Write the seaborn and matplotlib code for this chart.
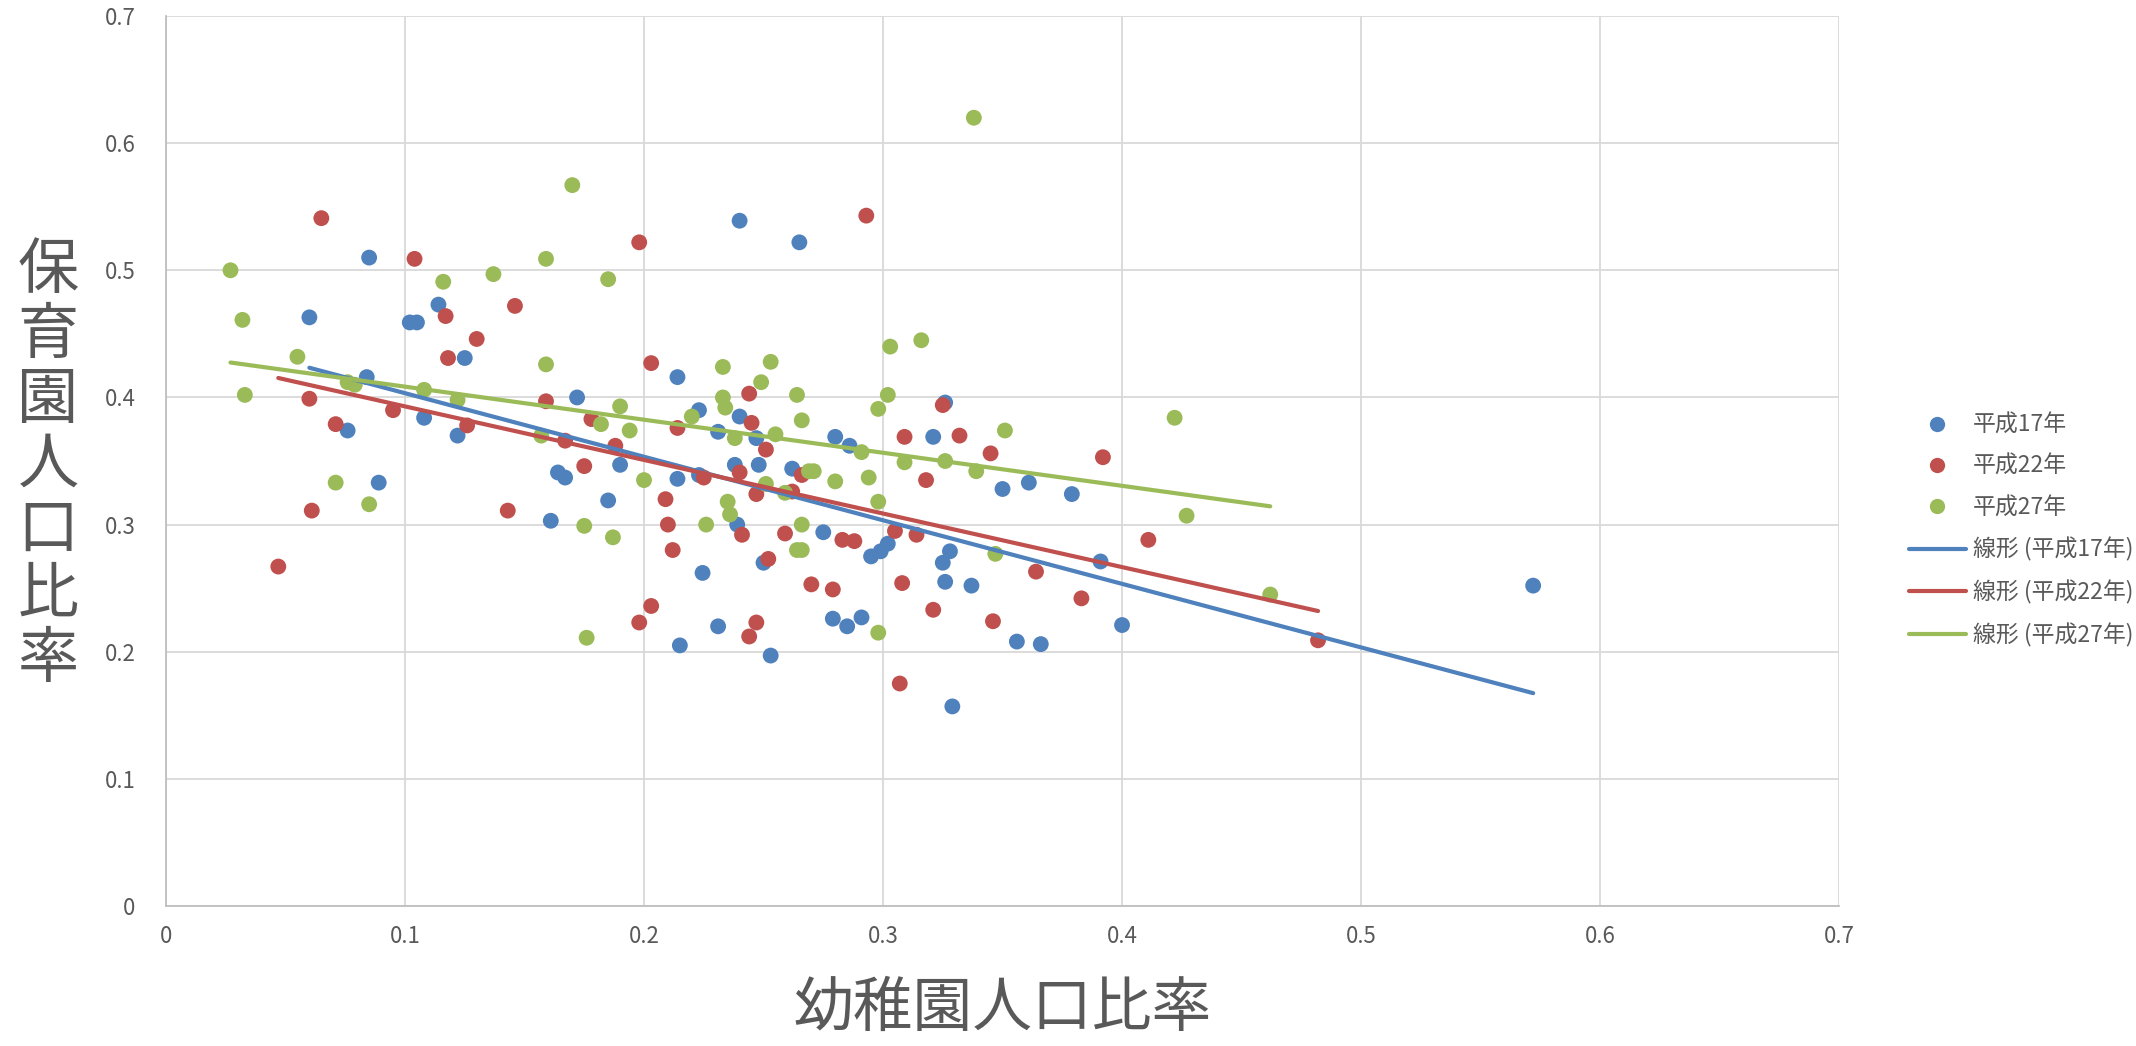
import numpy as np
import pandas as pd
import matplotlib
matplotlib.use("Agg")
import matplotlib.pyplot as plt
from matplotlib.lines import Line2D
import seaborn as sns

# 幼稚園人口比率 (x) / 保育園人口比率 (y) for each survey year
h17_x = [0.085, 0.060, 0.114, 0.102, 0.105, 0.084, 0.125, 0.076, 0.089, 0.108,
         0.122, 0.172, 0.164, 0.167, 0.161, 0.190, 0.185, 0.214, 0.223, 0.231,
         0.240, 0.247, 0.214, 0.223, 0.238, 0.248, 0.262, 0.239, 0.275, 0.2245,
         0.215, 0.231, 0.250, 0.253, 0.240, 0.265, 0.280, 0.286, 0.279, 0.285,
         0.291, 0.295, 0.299, 0.302, 0.321, 0.326, 0.325, 0.328, 0.326, 0.337,
         0.350, 0.361, 0.356, 0.366, 0.379, 0.391, 0.400, 0.329, 0.572]
h17_y = [0.510, 0.463, 0.473, 0.459, 0.459, 0.416, 0.431, 0.374, 0.333, 0.384,
         0.370, 0.400, 0.341, 0.337, 0.303, 0.347, 0.319, 0.416, 0.390, 0.373,
         0.385, 0.368, 0.336, 0.339, 0.347, 0.347, 0.344, 0.300, 0.294, 0.262,
         0.205, 0.220, 0.270, 0.197, 0.539, 0.522, 0.369, 0.362, 0.226, 0.220,
         0.227, 0.275, 0.279, 0.285, 0.369, 0.396, 0.270, 0.279, 0.255, 0.252,
         0.328, 0.333, 0.208, 0.206, 0.324, 0.271, 0.221, 0.157, 0.252]

h22_x = [0.065, 0.104, 0.198, 0.293, 0.117, 0.130, 0.146, 0.118, 0.060, 0.095,
         0.071, 0.126, 0.159, 0.178, 0.167, 0.188, 0.175, 0.061, 0.143, 0.047,
         0.203, 0.214, 0.244, 0.245, 0.251, 0.209, 0.225, 0.240, 0.247, 0.210,
         0.212, 0.241, 0.198, 0.203, 0.244, 0.247, 0.252, 0.259, 0.262, 0.266,
         0.270, 0.279, 0.283, 0.288, 0.305, 0.309, 0.308, 0.307, 0.314, 0.318,
         0.321, 0.325, 0.332, 0.345, 0.346, 0.364, 0.383, 0.392, 0.411, 0.482]
h22_y = [0.541, 0.509, 0.522, 0.543, 0.464, 0.446, 0.472, 0.431, 0.399, 0.390,
         0.379, 0.378, 0.397, 0.383, 0.366, 0.362, 0.346, 0.311, 0.311, 0.267,
         0.427, 0.376, 0.403, 0.380, 0.359, 0.320, 0.337, 0.341, 0.324, 0.300,
         0.280, 0.292, 0.223, 0.236, 0.212, 0.223, 0.273, 0.293, 0.326, 0.339,
         0.253, 0.249, 0.288, 0.287, 0.295, 0.369, 0.254, 0.175, 0.292, 0.335,
         0.233, 0.394, 0.370, 0.356, 0.224, 0.263, 0.242, 0.353, 0.288, 0.209]

h27_x = [0.027, 0.032, 0.033, 0.055, 0.076, 0.079, 0.071, 0.085, 0.108, 0.122,
         0.116, 0.137, 0.170, 0.159, 0.185, 0.159, 0.190, 0.157, 0.182, 0.194,
         0.200, 0.175, 0.187, 0.176, 0.220, 0.233, 0.233, 0.234, 0.238, 0.235,
         0.236, 0.226, 0.249, 0.253, 0.255, 0.251, 0.259, 0.264, 0.266, 0.269,
         0.271, 0.266, 0.264, 0.266, 0.280, 0.291, 0.294, 0.298, 0.298, 0.302,
         0.303, 0.316, 0.309, 0.298, 0.326, 0.338, 0.339, 0.351, 0.347, 0.422,
         0.427, 0.462]
h27_y = [0.500, 0.461, 0.402, 0.432, 0.412, 0.410, 0.333, 0.316, 0.406, 0.398,
         0.491, 0.497, 0.567, 0.509, 0.493, 0.426, 0.393, 0.370, 0.379, 0.374,
         0.335, 0.299, 0.290, 0.211, 0.385, 0.424, 0.400, 0.392, 0.368, 0.318,
         0.308, 0.300, 0.412, 0.428, 0.371, 0.332, 0.325, 0.402, 0.382, 0.342,
         0.342, 0.300, 0.280, 0.280, 0.334, 0.357, 0.337, 0.318, 0.391, 0.402,
         0.440, 0.445, 0.349, 0.215, 0.350, 0.620, 0.342, 0.374, 0.277, 0.384,
         0.307, 0.245]

series_names = ["平成17年", "平成22年", "平成27年"]
series_colors = ["#4F81BD", "#C0504D", "#9BBB59"]
tick_values = [0.0, 0.1, 0.2, 0.3, 0.4, 0.5, 0.6, 0.7]
tick_labels = ["0", "0.1", "0.2", "0.3", "0.4", "0.5", "0.6", "0.7"]

frames = []
for name, xs, ys in zip(series_names, [h17_x, h22_x, h27_x], [h17_y, h22_y, h27_y]):
    frames.append(pd.DataFrame({"幼稚園": xs, "保育園": ys, "年": name}))
df = pd.concat(frames, ignore_index=True)

sns.set_style("white")
plt.rcParams["font.family"] = ["Noto Sans CJK JP", "DejaVu Sans"]

fig = plt.figure(figsize=(21.36, 10.46), dpi=100)
ax = fig.add_axes([0.0777, 0.1338, 0.7833, 0.8509])

palette = dict(zip(series_names, series_colors))
sns.scatterplot(data=df, x="幼稚園", y="保育園", hue="年", palette=palette,
                s=130, edgecolor="none", ax=ax, legend=False, zorder=3)

for name, color in zip(series_names, series_colors):
    sub = df[df["年"] == name]
    sns.regplot(data=sub, x="幼稚園", y="保育園", scatter=False, ci=None,
                truncate=True, color=color, ax=ax,
                line_kws={"linewidth": 3.0, "solid_capstyle": "round", "zorder": 4})

ax.set_xlim(0, 0.7)
ax.set_ylim(0, 0.7)
ax.set_xticks(tick_values)
ax.set_yticks(tick_values)
ax.set_xticklabels(tick_labels)
ax.set_yticklabels(tick_labels)
ax.tick_params(axis="both", length=0, labelsize=16, labelcolor="#595959")
ax.tick_params(axis="x", pad=14)
ax.tick_params(axis="y", pad=22)
ax.grid(True, color="#d9d9d9", linewidth=1.3)
ax.set_axisbelow(True)
for side in ["top", "right"]:
    ax.spines[side].set_visible(False)
for side in ["left", "bottom"]:
    ax.spines[side].set_color("#bfbfbf")
    ax.spines[side].set_linewidth(1.3)

ax.set_xlabel("幼稚園人口比率", fontsize=43, color="#595959", labelpad=22)
ax.set_ylabel("")
fig.text(0.0225, 0.555, "\n".join("保育園人口比率"), fontsize=44, color="#595959",
         ha="center", va="center", linespacing=1.05)

handles = []
labels = []
for name, color in zip(series_names, series_colors):
    handles.append(Line2D([], [], linestyle="none", marker="o", markersize=11,
                          markerfacecolor=color, markeredgecolor="none"))
    labels.append(name)
for name, color in zip(series_names, series_colors):
    handles.append(Line2D([], [], color=color, linewidth=3.0, solid_capstyle="round"))
    labels.append(f"線形 ({name})")

fig.legend(handles, labels, loc="center left", bbox_to_anchor=(0.884, 0.493),
           frameon=False, fontsize=16.5, labelcolor="#595959", handlelength=2.5,
           handletextpad=0.3, labelspacing=0.8)

fig.savefig("out.png", dpi=100, facecolor="white")
